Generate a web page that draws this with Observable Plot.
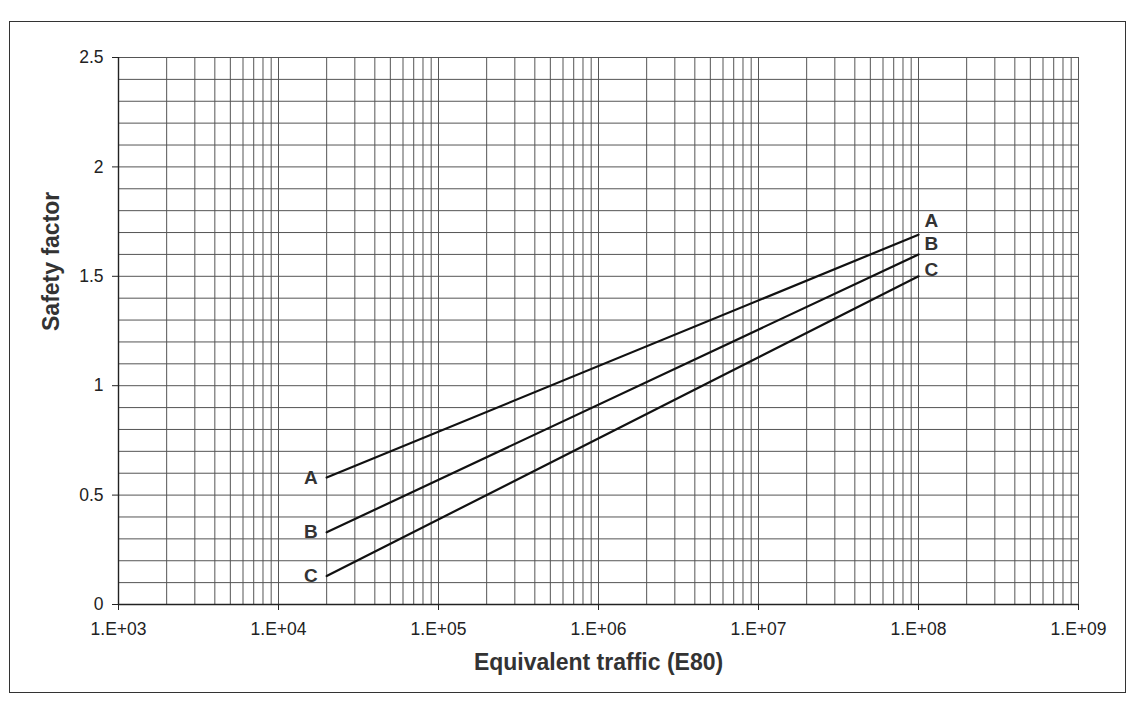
<!DOCTYPE html>
<html>
<head>
<meta charset="utf-8">
<script src="https://cdn.jsdelivr.net/npm/d3@7"></script>
<script src="https://cdn.jsdelivr.net/npm/@observablehq/plot@0.6"></script>
<style>
  html, body { margin: 0; padding: 0; background: #fff; }
  #wrap { position: relative; width: 1136px; height: 706px; overflow: hidden; }
  #frame { position: absolute; left: 9px; top: 21px; width: 1115px; height: 670px; border: 1.5px solid #333; pointer-events: none; }
  #chart { position: absolute; left: 0; top: 0; }
</style>
</head>
<body>
<div id="wrap"><div id="chart"></div><div id="frame"></div></div>
<script>
// ---- data ----
const seriesNames = ["A", "B", "C"];
const traffic = [2e4, 1e8];               // equivalent traffic (E80) at the line ends
const safetyA = [0.58, 1.69];
const safetyB = [0.33, 1.60];
const safetyC = [0.13, 1.50];
const xTickValues = [1e3, 1e4, 1e5, 1e6, 1e7, 1e8, 1e9];
const xTickLabels = ["1.E+03", "1.E+04", "1.E+05", "1.E+06", "1.E+07", "1.E+08", "1.E+09"];
const yTickValues = [0, 0.5, 1, 1.5, 2, 2.5];
const yTickLabels = ["0", "0.5", "1", "1.5", "2", "2.5"];
const xTitle = "Equivalent traffic (E80)";
const yTitle = "Safety factor";

// ---- build tables ----
const values = {A: safetyA, B: safetyB, C: safetyC};
const rows = seriesNames.flatMap(s => traffic.map((t, i) => ({series: s, traffic: t, sf: values[s][i]})));
const startRows = rows.filter(d => d.traffic === traffic[0]);
const endRows = rows.filter(d => d.traffic === traffic[traffic.length - 1]);

// grid positions: every 1..9 within each decade, every 0.1 vertically
const xGrid = [];
for (let k = 3; k < 9; k++) for (let m = 1; m <= 9; m++) xGrid.push(m * Math.pow(10, k));
xGrid.push(1e9);
const yGrid = d3.range(0, 26).map(i => i / 10);

const font = "'Liberation Sans', Arial, Helvetica, sans-serif";
const gridColor = "#555";
const labelStyle = {fontSize: 19, fontWeight: "bold", fill: "#333"};
const endShift = {A: -14, B: -11, C: -6};

const chart = Plot.plot({
  width: 1136,
  height: 706,
  marginLeft: 118,
  marginRight: 58,
  marginTop: 57,
  marginBottom: 102,
  style: {fontFamily: font, fontSize: "17px", color: "#222", background: "transparent"},
  x: {type: "log", domain: [1e3, 1e9]},
  y: {domain: [0, 2.5]},
  marks: [
    Plot.ruleX(xGrid, {stroke: gridColor, strokeWidth: 1}),
    Plot.ruleY(yGrid, {stroke: gridColor, strokeWidth: 1}),
    Plot.ruleY([0], {stroke: "#222", strokeWidth: 1.4}),
    Plot.ruleX([1e3], {stroke: "#222", strokeWidth: 1.4}),
    Plot.axisX({
      ticks: xTickValues,
      tickFormat: (d) => xTickLabels[xTickValues.indexOf(d)],
      tickSize: 6, tickPadding: 12, label: null, stroke: "#222", fontSize: 17.5
    }),
    Plot.axisY({
      ticks: yTickValues,
      tickFormat: (d) => yTickLabels[yTickValues.indexOf(d)],
      tickSize: 6, tickPadding: 9, label: null, stroke: "#222", fontSize: 17.5
    }),
    Plot.line(rows, {x: "traffic", y: "sf", z: "series", stroke: "#111", strokeWidth: 2.2}),
    Plot.text(startRows, {x: "traffic", y: "sf", text: "series", textAnchor: "end", dx: -9, ...labelStyle}),
    ...seriesNames.map(s =>
      Plot.text(endRows.filter(d => d.series === s), {x: "traffic", y: "sf", text: "series",
        textAnchor: "start", dx: 6, dy: endShift[s], ...labelStyle})),
    Plot.text([xTitle], {frameAnchor: "bottom", text: d => d, dy: 58, lineAnchor: "middle",
      fontSize: 23, fontWeight: "bold", fill: "#333", letterSpacing: 0.5}),
    Plot.text([yTitle], {frameAnchor: "left", text: d => d, rotate: -90, dx: -67,
      fontSize: 23, fontWeight: "bold", fill: "#333", letterSpacing: 0.5})
  ]
});
document.getElementById("chart").appendChild(chart);
</script>
</body>
</html>
